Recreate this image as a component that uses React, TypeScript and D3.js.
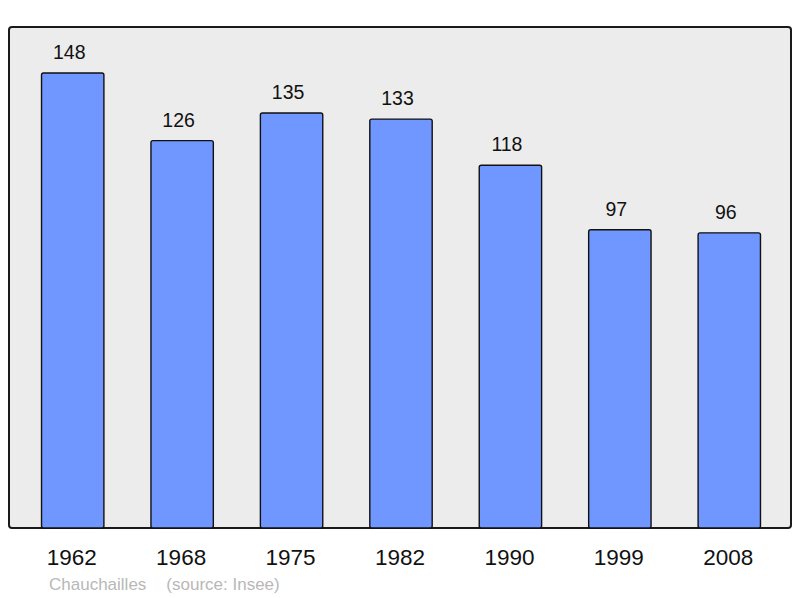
import React from 'react';
import * as d3 from 'd3';

const years = ['1962', '1968', '1975', '1982', '1990', '1999', '2008'];
const population = [148, 126, 135, 133, 118, 97, 96];
const commune = 'Chauchailles';
const source = '(source: Insee)';

const App: React.FC = () => {
  const width = 800;
  const height = 598;
  const frame = { left: 9, top: 27, right: 791, bottom: 528 };

  const x = d3.scaleBand<string>()
    .domain(years)
    .range([18, 784])
    .paddingInner(0.43)
    .paddingOuter(0.215);

  const y = d3.scaleLinear()
    .domain([0, 148])
    .range([frame.bottom, 73]);

  const font = '"Liberation Sans", Arial, sans-serif';

  return (
    <svg
      width={width}
      height={height}
      style={{ position: 'absolute', left: 0, top: 0, background: '#fff' }}
      fontFamily={font}
    >
      <rect
        x={frame.left}
        y={frame.top}
        width={frame.right - frame.left}
        height={frame.bottom - frame.top}
        rx={3}
        fill="#ececec"
        stroke="#1a1a1a"
        strokeWidth={2}
      />
      {years.map((yr, i) => {
        const bx = x(yr)!;
        const top = y(population[i]);
        return (
          <g key={yr}>
            <rect
              x={bx}
              y={top}
              width={x.bandwidth()}
              height={frame.bottom - top}
              rx={2}
              fill="#7097ff"
              stroke="#111"
              strokeWidth={1.4}
            />
            <text
              x={bx + x.bandwidth() / 2 - 3.5}
              y={top - 14}
              textAnchor="middle"
              fontSize={19.5}
              fill="#111"
            >
              {population[i]}
            </text>
            <text
              x={bx + x.bandwidth() / 2 - 1}
              y={564.5}
              textAnchor="middle"
              fontSize={22.5}
              fill="#111"
            >
              {yr}
            </text>
          </g>
        );
      })}
      <text x={49} y={590} fontSize={17} fill="#b8b8b8">
        {commune}
        <tspan dx={20}>{source}</tspan>
      </text>
    </svg>
  );
};

export default App;
